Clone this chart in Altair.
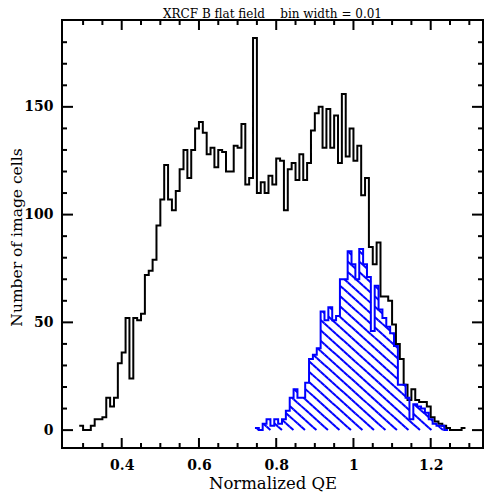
import altair as alt
import pandas as pd

# ---------------- data ----------------
bin_width = 0.01

# all image cells (black histogram), left edge of first bin
black_start = 0.29
black_counts = [2, 0, 0, 2, 5, 5, 6, 15, 11, 15,
                31, 36, 52, 24, 52, 51, 54, 72, 74, 79,
                95, 107, 123, 107, 102, 111, 121, 130, 117, 130,
                140, 143, 138, 128, 131, 122, 130, 129, 120, 120,
                132, 131, 142, 114, 117, 182, 110, 115, 110, 118,
                114, 126, 125, 102, 121, 124, 116, 128, 116, 124,
                139, 147, 150, 131, 149, 131, 146, 124, 156, 127,
                140, 125, 132, 109, 117, 85, 77, 87, 62, 62,
                60, 49, 40, 33, 21, 14, 19, 14, 13, 13,
                11, 6, 4, 3, 2, 1, 0, 0, 0, 1]

# subset (blue hatched histogram)
blue_start = 0.745
blue_counts = [1, 0, 3, 5, 2, 5, 3, 5, 9, 15,
               19, 15, 15, 22, 33, 35, 38, 55, 51, 57,
               51, 53, 70, 70, 83, 77, 70, 84, 77, 71,
               46, 67, 56, 52, 48, 45, 39, 21, 21, 15,
               5, 12, 11, 10, 8, 5, 3, 2, 2, 0]

x_major = [0.4, 0.6, 0.8, 1.0, 1.2]
x_minor = [0.3, 0.35, 0.45, 0.5, 0.55, 0.65, 0.7, 0.75, 0.85, 0.9,
           0.95, 1.05, 1.1, 1.15, 1.25, 1.3]
y_major = [0, 50, 100, 150]
y_minor = [10, 20, 30, 40, 60, 70, 80, 90, 110, 120, 130, 140, 160, 170, 180]

title_text = "XRCF B flat field\u00a0\u00a0\u00a0\u00a0bin width = 0.01"
x_title = "Normalized QE"
y_title = "Number of image cells"

# ---------------- layout / scales ----------------
W, H = 421, 428
X0, X1 = 0.2454, 1.3354
Y0, Y1 = -8.3, 190.3
FONT = "DejaVu Serif"


def step_frame(start, counts):
    xs = [start + bin_width * i for i in range(len(counts) + 1)]
    ys = list(counts) + [counts[-1]]
    return pd.DataFrame({"x": xs, "y": ys})


black_df = step_frame(black_start, black_counts)
blue_df = step_frame(blue_start, blue_counts)

# hatch segments for the blue histogram (derived from blue_counts)
sx = W / (X1 - X0)
sy = H / (Y1 - Y0)
slope = 0.9      # pixel rise per pixel run
spacing = 11.5   # horizontal spacing of hatch lines, px
edges_px = [(blue_start + bin_width * j - X0) * sx for j in range(len(blue_counts) + 1)]
hmax = max(blue_counts) * sy
segs = []
c = edges_px[0] + 4
while c < edges_px[-1] + hmax / slope:
    for j, cnt in enumerate(blue_counts):
        h = cnt * sy
        if h <= 0:
            continue
        lo = max(edges_px[j], c - h / slope)
        hi = min(edges_px[j + 1], c)
        if hi - lo > 0.05:
            segs.append({"x1": lo / sx + X0, "y1": slope * (c - lo) / sy,
                         "x2": hi / sx + X0, "y2": slope * (c - hi) / sy})
    c += spacing
hatch_df = pd.DataFrame(segs)

xscale = alt.Scale(domain=[X0, X1], nice=False, zero=False)
yscale = alt.Scale(domain=[Y0, Y1], nice=False, zero=False)

x_axis = alt.Axis(values=x_major, format="~g", ticks=False, domain=False, grid=False,
                  labelFont=FONT, labelFontWeight="bold", labelFontSize=14,
                  labelPadding=10, labelColor="black",
                  title=x_title, titleFont=FONT, titleFontWeight="normal",
                  titleFontSize=16.5, titleColor="black",
                  titleX=W / 2, titleY=40, titleAlign="center",
                  titleBaseline="alphabetic")
y_axis = alt.Axis(values=y_major, format="d", ticks=False, domain=False, grid=False,
                  labelFont=FONT, labelFontWeight="bold", labelFontSize=14,
                  labelPadding=9, labelColor="black",
                  title=y_title, titleFont=FONT, titleFontWeight="normal",
                  titleFontSize=15.5, titleColor="black",
                  titleX=-41, titleY=217, titleAngle=270, titleAlign="center",
                  titleBaseline="alphabetic")

black = alt.Chart(black_df).mark_line(
    interpolate="step-after", color="black", strokeWidth=2, strokeJoin="miter"
).encode(
    x=alt.X("x:Q", scale=xscale, axis=x_axis),
    y=alt.Y("y:Q", scale=yscale, axis=y_axis),
)

hatch = alt.Chart(hatch_df).mark_rule(color="#0000ff", strokeWidth=2).encode(
    x=alt.X("x1:Q", scale=xscale, axis=x_axis),
    x2="x2:Q",
    y=alt.Y("y1:Q", scale=yscale, axis=y_axis),
    y2="y2:Q",
)

blue = alt.Chart(blue_df).mark_line(
    interpolate="step-after", color="#0000ff", strokeWidth=2, strokeJoin="miter"
).encode(
    x=alt.X("x:Q", scale=xscale, axis=x_axis),
    y=alt.Y("y:Q", scale=yscale, axis=y_axis),
)


def xticks(vals, length):
    d = pd.DataFrame({"v": vals})
    bottom = alt.Chart(d).mark_rule(color="black", strokeWidth=2).encode(
        x=alt.X("v:Q", scale=xscale, axis=x_axis),
        y=alt.value(H), y2=alt.value(H - length))
    top = alt.Chart(d).mark_rule(color="black", strokeWidth=2).encode(
        x=alt.X("v:Q", scale=xscale, axis=x_axis),
        y=alt.value(0), y2=alt.value(length))
    return [bottom, top]


def yticks(vals, length):
    d = pd.DataFrame({"v": vals})
    left = alt.Chart(d).mark_rule(color="black", strokeWidth=2).encode(
        y=alt.Y("v:Q", scale=yscale, axis=y_axis),
        x=alt.value(0), x2=alt.value(length))
    right = alt.Chart(d).mark_rule(color="black", strokeWidth=2).encode(
        y=alt.Y("v:Q", scale=yscale, axis=y_axis),
        x=alt.value(W), x2=alt.value(W - length))
    return [left, right]


# chart title drawn as a text layer so it sits just above the frame
title_layer = alt.Chart(pd.DataFrame({"t": [title_text]})).mark_text(
    font=FONT, fontSize=12, color="black", align="center", baseline="alphabetic"
).encode(x=alt.value(W / 2), y=alt.value(-2.5), text="t:N")

layers = [black, hatch, blue] + xticks(x_major, 10) + xticks(x_minor, 5) \
    + yticks(y_major, 11) + yticks(y_minor, 5) + [title_layer]

chart = alt.layer(*layers).properties(
    width=W, height=H,
    autosize=alt.AutoSizeParams(type="none"),
    padding={"left": 54, "top": 12, "right": 10, "bottom": 45},
    background="white",
).configure_view(stroke="black", strokeWidth=2)

chart.save("out.html", embed_options={"renderer": "svg", "actions": False})
